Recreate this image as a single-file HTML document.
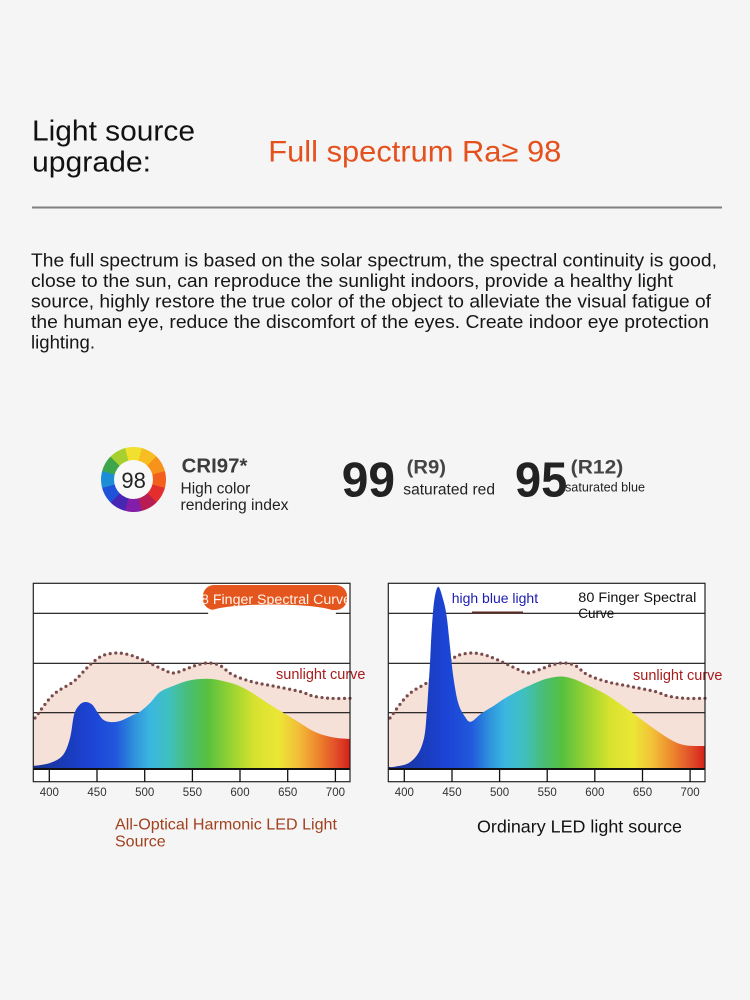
<!DOCTYPE html>
<html><head><meta charset="utf-8">
<style>
html,body{margin:0;padding:0;background:#f5f5f5;width:750px;height:1000px;overflow:hidden}
.wheel{position:absolute;left:101.3px;top:446.5px;width:65px;height:65px;border-radius:50%;
background:conic-gradient(from -15deg,#f1e02e 0deg 30deg,#f8bd22 30deg 60deg,#f6931a 60deg 90deg,#f2601c 90deg 120deg,#e22e2c 120deg 150deg,#b81c52 150deg 180deg,#821ea8 180deg 210deg,#4826b4 210deg 240deg,#1e52d8 240deg 270deg,#1c8ed6 270deg 300deg,#3ea64a 300deg 330deg,#a8cf30 330deg 360deg)}
.wheel::after{content:"";position:absolute;left:13px;top:13px;width:39px;height:39px;border-radius:50%;background:#f8f8f8}
svg{position:absolute;left:0;top:0}
text{font-family:"Liberation Sans",Arial,sans-serif}
</style></head>
<body>
<div class="wheel"></div>
<svg width="750" height="1000" viewBox="0 0 750 1000" xmlns="http://www.w3.org/2000/svg">
<defs>
<linearGradient id="spec" x1="0" y1="0" x2="1" y2="0">
<stop offset="0" stop-color="#19338f"/>
<stop offset="0.112" stop-color="#1a3cbc"/>
<stop offset="0.187" stop-color="#1c44d6"/>
<stop offset="0.262" stop-color="#2158dc"/>
<stop offset="0.322" stop-color="#2f94dc"/>
<stop offset="0.368" stop-color="#3bb6e0"/>
<stop offset="0.428" stop-color="#3fc0c0"/>
<stop offset="0.488" stop-color="#48be78"/>
<stop offset="0.548" stop-color="#55c040"/>
<stop offset="0.623" stop-color="#96d232"/>
<stop offset="0.698" stop-color="#d6e22e"/>
<stop offset="0.774" stop-color="#ece636"/>
<stop offset="0.834" stop-color="#f2c038"/>
<stop offset="0.894" stop-color="#ee8a2e"/>
<stop offset="0.954" stop-color="#e2502a"/>
<stop offset="1" stop-color="#d42018"/>
</linearGradient>
</defs>

<!-- Header -->
<text x="32" y="140.7" font-size="29" fill="#111" textLength="163" lengthAdjust="spacingAndGlyphs">Light source</text>
<text x="32" y="171.7" font-size="29" fill="#111" textLength="119" lengthAdjust="spacingAndGlyphs">upgrade:</text>
<text x="268.3" y="161.7" font-size="30" fill="#e4511d" textLength="293" lengthAdjust="spacingAndGlyphs">Full spectrum Ra≥ 98</text>
<rect x="32" y="206.5" width="690" height="2" fill="#808080"/>

<g font-size="18.6" fill="#161616">
<text x="31" y="266.5" textLength="686" lengthAdjust="spacingAndGlyphs">The full spectrum is based on the solar spectrum, the spectral continuity is good,</text>
<text x="31" y="287" textLength="642" lengthAdjust="spacingAndGlyphs">close to the sun, can reproduce the sunlight indoors, provide a healthy light</text>
<text x="31" y="307.5" textLength="680" lengthAdjust="spacingAndGlyphs">source, highly restore the true color of the object to alleviate the visual fatigue of</text>
<text x="31" y="328" textLength="678" lengthAdjust="spacingAndGlyphs">the human eye, reduce the discomfort of the eyes. Create indoor eye protection</text>
<text x="31" y="348.5" textLength="64" lengthAdjust="spacingAndGlyphs">lighting.</text>
</g>

<!-- CRI row -->
<text x="133.6" y="488" font-size="22" fill="#222" text-anchor="middle">98</text>
<text x="181.7" y="472.7" font-size="20" font-weight="bold" fill="#3c3c3c" textLength="65.7" lengthAdjust="spacingAndGlyphs">CRI97*</text>
<text x="180.5" y="493.3" font-size="15.5" fill="#222">High color</text>
<text x="180.5" y="510" font-size="15.5" fill="#222" textLength="108" lengthAdjust="spacingAndGlyphs">rendering index</text>
<text x="341.7" y="496.7" font-size="49" font-weight="bold" fill="#222" textLength="53.3" lengthAdjust="spacingAndGlyphs">99</text>
<text x="406.7" y="473.3" font-size="19.5" font-weight="bold" fill="#444" textLength="39.3" lengthAdjust="spacingAndGlyphs">(R9)</text>
<text x="403.3" y="494.3" font-size="15.5" fill="#222" textLength="91.7" lengthAdjust="spacingAndGlyphs">saturated red</text>
<text x="515" y="496.7" font-size="49" font-weight="bold" fill="#222" textLength="52.3" lengthAdjust="spacingAndGlyphs">95</text>
<text x="570.7" y="473.3" font-size="19.5" font-weight="bold" fill="#444" textLength="52.6" lengthAdjust="spacingAndGlyphs">(R12)</text>
<text x="565" y="491.7" font-size="13" fill="#222" textLength="80" lengthAdjust="spacingAndGlyphs">saturated blue</text>

<!-- LEFT CHART -->
<rect x="33.3" y="583.3" width="316.7" height="198.4" fill="#fff"/>
<path id="sunFillL" fill="#f5e1d7" d="M33,719 L53,695 L73,682 L83,672 L92,663 L103,655.5 L117,653 L130,655 L143,660 L160,668 L173,673 L186,669 L197,665 L208,663 L220,665.5 L233,675 L253,682 L273,686 L300,691.5 L313,696 L330,698.3 L350,698.3 L350,769 L33,769 Z"/>
<g stroke="#111" stroke-width="1.2">
<line x1="33.3" y1="613.3" x2="350" y2="613.3"/>
<line x1="33.3" y1="663.3" x2="350" y2="663.3"/>
<line x1="33.3" y1="712.7" x2="350" y2="712.7"/>
</g>
<path id="sunDotL" fill="none" stroke="#7b4b4b" stroke-width="3.2" stroke-linecap="round" stroke-dasharray="0 5.6" d="M35,718 L53,695 L73,682 L83,672 L92,663 L103,655.5 L117,653 L130,655 L143,660 L160,668 L173,673 L186,669 L197,665 L208,663 L220,665.5 L233,675 L253,682 L273,686 L300,691.5 L313,696 L330,698.3 L350,698.3"/>
<path id="ledL" fill="url(#spec)" d="M33,766 L50,763 L63,755 L70,738 L74,715 L79,705.5 L85,702 L92,704.5 L98,713 L103,719.5 L110,722 L120,721 L133,715 L140,711.7 L150,703 L160,692 L173,686 L187,681 L200,679 L212,679 L225,681.5 L237,685 L250,691.5 L260,698 L273,706.5 L287,715 L300,723 L313,731 L325,735.5 L337,738 L350,739 L350,769 L33,769 Z"/>
<!-- pill label -->
<rect x="203" y="585" width="144" height="25" rx="11" fill="#e4561d"/>
<ellipse cx="272" cy="613" rx="64" ry="8.5" fill="#fff"/>
<text x="201" y="604" font-size="13.5" fill="#fff3ea" textLength="150" lengthAdjust="spacingAndGlyphs">8 Finger Spectral Curve</text>
<text x="276" y="679" font-size="14.5" fill="#a81c1c">sunlight curve</text>
<line x1="33.3" y1="769" x2="350" y2="769" stroke="#111" stroke-width="2"/>
<rect x="33.3" y="583.3" width="316.7" height="198.4" fill="none" stroke="#222" stroke-width="1.2"/>
<g stroke="#111" stroke-width="1.3">
<line x1="49.3" y1="769" x2="49.3" y2="782"/>
<line x1="97" y1="769" x2="97" y2="782"/>
<line x1="144.7" y1="769" x2="144.7" y2="782"/>
<line x1="192.4" y1="769" x2="192.4" y2="782"/>
<line x1="240" y1="769" x2="240" y2="782"/>
<line x1="287.7" y1="769" x2="287.7" y2="782"/>
<line x1="335.4" y1="769" x2="335.4" y2="782"/>
</g>
<g font-size="11.5" fill="#333" text-anchor="middle">
<text x="49.3" y="796">400</text>
<text x="97" y="796">450</text>
<text x="144.7" y="796">500</text>
<text x="192.4" y="796">550</text>
<text x="240" y="796">600</text>
<text x="287.7" y="796">650</text>
<text x="335.4" y="796">700</text>
</g>

<!-- RIGHT CHART -->
<rect x="388.3" y="583.3" width="316.7" height="198.4" fill="#fff"/>
<path id="sunFillR" transform="translate(355,0)" fill="#f5e1d7" d="M33,719 L53,695 L73,682 L83,672 L92,663 L103,655.5 L117,653 L130,655 L143,660 L160,668 L173,673 L186,669 L197,665 L208,663 L220,665.5 L233,675 L253,682 L273,686 L300,691.5 L313,696 L330,698.3 L350,698.3 L350,769 L33,769 Z"/>
<g stroke="#111" stroke-width="1.2">
<line x1="388.3" y1="613.3" x2="705" y2="613.3"/>
<line x1="388.3" y1="663.3" x2="705" y2="663.3"/>
<line x1="388.3" y1="712.7" x2="705" y2="712.7"/>
</g>
<path id="sunDotR" transform="translate(355,0)" fill="none" stroke="#7b4b4b" stroke-width="3.2" stroke-linecap="round" stroke-dasharray="0 5.6" d="M35,718 L53,695 L73,682 L83,672 L92,663 L103,655.5 L117,653 L130,655 L143,660 L160,668 L173,673 L186,669 L197,665 L208,663 L220,665.5 L233,675 L253,682 L273,686 L300,691.5 L313,696 L330,698.3 L350,698.3"/>
<path id="ledR" fill="url(#spec)" d="M388,767 L395,766.7 L408.3,763.3 L418.3,753.3 L424.3,736.7 L426.7,713.3 L428.3,690 L430,663.3 L431.7,630 L434.3,600 L438.3,586.7 L443.3,600 L446.7,616.7 L450,646.7 L453.3,676.7 L458.3,703.3 L465,716.7 L471,721.7 L481.7,713.3 L495,705 L505,698.3 L520,690 L540,681 L552,677.5 L562,676.5 L572,678.5 L583,683 L607,695 L630,711 L653,728 L673,741 L687,745.5 L705,746 L705,769 L388,769 Z"/>
<line x1="472" y1="612.5" x2="523" y2="612.5" stroke="#5a2a22" stroke-width="2"/>
<text x="451.7" y="603" font-size="14" fill="#1c1cb0">high blue light</text>
<text x="578.3" y="602" font-size="13.5" fill="#111" textLength="118" lengthAdjust="spacingAndGlyphs">80 Finger Spectral</text>
<text x="578.3" y="618" font-size="13.5" fill="#111">Curve</text>
<text x="633" y="680" font-size="14.5" fill="#a81c1c">sunlight curve</text>
<line x1="388.3" y1="769" x2="705" y2="769" stroke="#111" stroke-width="2"/>
<rect x="388.3" y="583.3" width="316.7" height="198.4" fill="none" stroke="#222" stroke-width="1.2"/>
<g stroke="#111" stroke-width="1.3">
<line x1="404.3" y1="769" x2="404.3" y2="782"/>
<line x1="452" y1="769" x2="452" y2="782"/>
<line x1="499.6" y1="769" x2="499.6" y2="782"/>
<line x1="547.2" y1="769" x2="547.2" y2="782"/>
<line x1="594.8" y1="769" x2="594.8" y2="782"/>
<line x1="642.5" y1="769" x2="642.5" y2="782"/>
<line x1="690.1" y1="769" x2="690.1" y2="782"/>
</g>
<g font-size="11.5" fill="#333" text-anchor="middle">
<text x="404.3" y="796">400</text>
<text x="452" y="796">450</text>
<text x="499.6" y="796">500</text>
<text x="547.2" y="796">550</text>
<text x="594.8" y="796">600</text>
<text x="642.5" y="796">650</text>
<text x="690.1" y="796">700</text>
</g>

<!-- Captions -->
<text x="115" y="829.5" font-size="16" fill="#a1411e" textLength="222" lengthAdjust="spacingAndGlyphs">All-Optical Harmonic LED Light</text>
<text x="115" y="846.5" font-size="16" fill="#a1411e">Source</text>
<text x="477" y="832.5" font-size="17.5" fill="#111" textLength="205" lengthAdjust="spacingAndGlyphs">Ordinary LED light source</text>
</svg>
<script>
(function(){
function cr(p){var d='M'+p[0][0]+','+p[0][1];for(var i=0;i<p.length-1;i++){var a=p[i-1]||p[i],b=p[i],c=p[i+1],e=p[i+2]||c;
d+=' C'+(b[0]+(c[0]-a[0])/6).toFixed(2)+','+(b[1]+(c[1]-a[1])/6).toFixed(2)+' '+(c[0]-(e[0]-b[0])/6).toFixed(2)+','+(c[1]-(e[1]-b[1])/6).toFixed(2)+' '+c[0]+','+c[1];}return d;}
try{
var S=[[33,719],[53,695],[73,682],[83,672],[92,663],[103,655.5],[117,653],[130,655],[143,660],[160,668],[173,673],[186,669],[197,665],[208,663],[220,665.5],[233,675],[253,682],[273,686],[300,691.5],[313,696],[330,698.3],[350,698.3]];
var L=[[33,766],[50,763],[63,755],[70,738],[74,715],[79,705.5],[85,702],[92,704.5],[98,713],[103,719.5],[110,722],[120,721],[133,715],[140,711.7],[150,703],[160,692],[173,686],[187,681],[200,679],[212,679],[225,681.5],[237,685],[250,691.5],[260,698],[273,706.5],[287,715],[300,723],[313,731],[325,735.5],[337,738],[350,739]];
var R=[[388,767],[395,766.7],[408.3,763.3],[418.3,753.3],[424.3,736.7],[426.7,713.3],[428.3,690],[430,663.3],[431.7,630],[434.3,600],[438.3,586.7],[443.3,600],[446.7,616.7],[450,646.7],[453.3,676.7],[458.3,703.3],[465,716.7],[471,721.7],[481.7,713.3],[495,705],[505,698.3],[520,690],[540,681],[552,677.5],[562,676.5],[572,678.5],[583,683],[607,695],[630,711],[653,728],[673,741],[687,745.5],[705,746]];
var s=cr(S);
document.getElementById('sunFillL').setAttribute('d',s+' L350,769 L33,769 Z');
document.getElementById('sunFillR').setAttribute('d',s+' L350,769 L33,769 Z');
var S2=S.slice();S2[0]=[35,718];var s2=cr(S2);
document.getElementById('sunDotL').setAttribute('d',s2);
document.getElementById('sunDotR').setAttribute('d',s2);
document.getElementById('ledL').setAttribute('d',cr(L)+' L350,769 L33,769 Z');
document.getElementById('ledR').setAttribute('d',cr(R)+' L705,769 L388,769 Z');
}catch(e){}
})();
</script>
</body></html>
